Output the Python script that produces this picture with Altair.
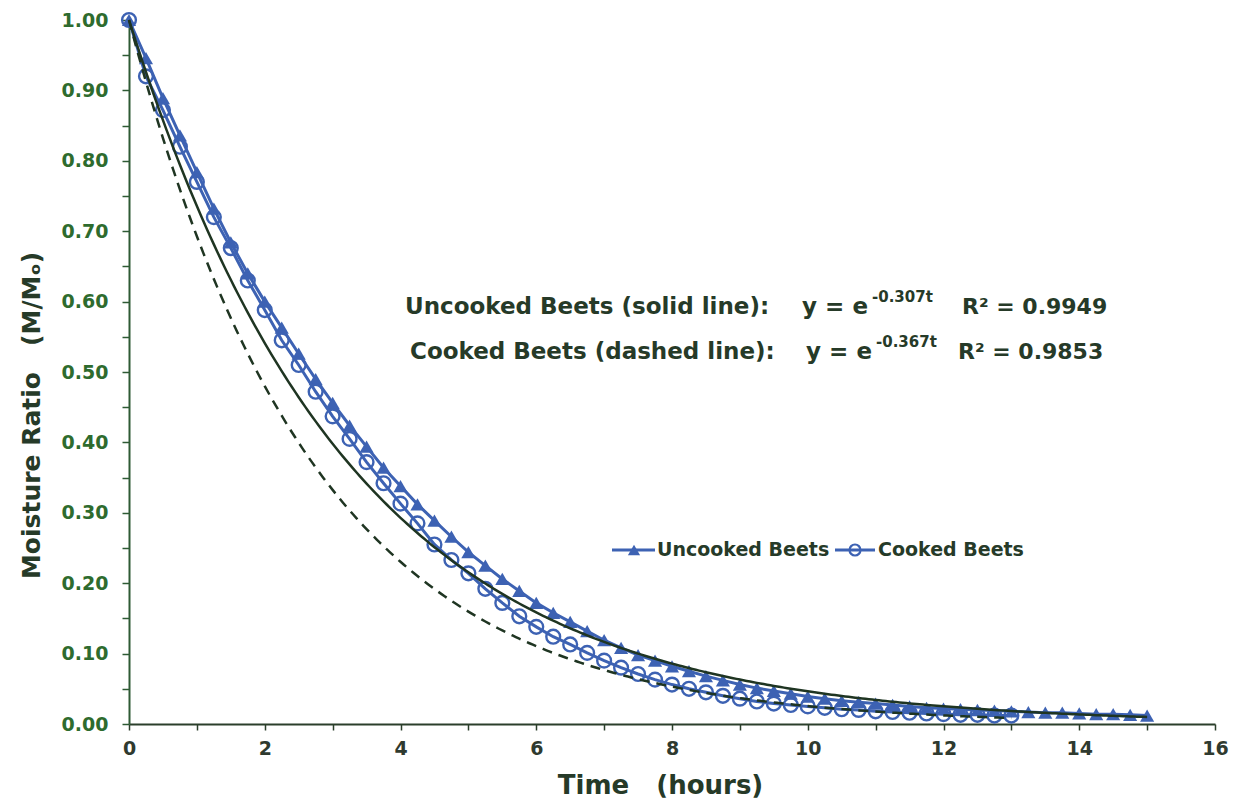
import altair as alt
import pandas as pd

# Drying data: moisture ratio M/Mo measured every quarter hour
uncooked_time = [i * 0.25 for i in range(61)]
uncooked_mr = [
    1.000, 0.946, 0.889, 0.836, 0.784, 0.732, 0.684, 0.640, 0.600, 0.563,
    0.526, 0.490, 0.456, 0.424, 0.394, 0.364, 0.338, 0.312, 0.289, 0.266,
    0.244, 0.225, 0.206, 0.189, 0.172, 0.158, 0.145, 0.132, 0.119, 0.108,
    0.098, 0.090, 0.082, 0.075, 0.068, 0.062, 0.056, 0.051, 0.047, 0.043,
    0.039, 0.036, 0.033, 0.031, 0.029, 0.027, 0.025, 0.023, 0.022, 0.021,
    0.020, 0.019, 0.018, 0.017, 0.016, 0.016, 0.015, 0.014, 0.014, 0.013,
    0.012,
]
cooked_time = [i * 0.25 for i in range(53)]
cooked_mr = [
    1.000, 0.920, 0.872, 0.820, 0.770, 0.720, 0.676, 0.630, 0.588, 0.545,
    0.510, 0.472, 0.437, 0.405, 0.372, 0.342, 0.313, 0.285, 0.255, 0.233,
    0.214, 0.192, 0.172, 0.153, 0.138, 0.124, 0.113, 0.101, 0.090, 0.080,
    0.071, 0.063, 0.056, 0.050, 0.045, 0.040, 0.036, 0.032, 0.029, 0.027,
    0.025, 0.023, 0.021, 0.020, 0.018, 0.017, 0.016, 0.015, 0.014, 0.013,
    0.013, 0.012, 0.012,
]

# Exponential fits y = exp(-k t)
fit_rates = [0.307, 0.367]
fit_r2 = ["0.9949", "0.9853"]
fit_end = [15.0, 13.0]

series_names = ["Uncooked Beets", "Cooked Beets"]
eq_labels = ["Uncooked Beets (solid line):", "Cooked Beets (dashed line):"]

x_ticks = list(range(0, 17))
y_ticks = [round(i * 0.05, 2) for i in range(21)]

BLUE = "#3d62b3"
DARK = "#1f3522"
TEXT = "#263a28"
GREEN = "#2e6b2e"
FONT = "DejaVu Sans"
NB = "\u00a0"

x_scale = alt.Scale(domain=[0, 16], nice=False)
y_scale = alt.Scale(domain=[0, 1], nice=False)

x_axis = alt.Axis(
    values=x_ticks,
    labelExpr="datum.value % 2 == 0 ? datum.label : ''",
    grid=False, tickSize=6, tickColor="#2b3f2b", tickWidth=1.5,
    domainColor="#2b3f2b", domainWidth=2,
    labelFont=FONT, labelFontSize=19, labelFontWeight="bold", labelColor="#2f3a2f",
    labelPadding=9, labelFlush=False,
    title=f"Time{NB}{NB}{NB}(hours)", titleFont=FONT, titleFontSize=26,
    titleFontWeight="bold", titleColor=TEXT,
    titleX=531, titleY=61, titleBaseline="middle",
)
y_axis = alt.Axis(
    values=y_ticks,
    labelExpr="round(datum.value * 100) % 10 == 0 ? format(datum.value, '.2f') : ''",
    grid=False, tickSize=7, tickColor="#2e5a34", tickWidth=1.5,
    domainColor="#2e5a34", domainWidth=2,
    labelFont=FONT, labelFontSize=19, labelFontWeight="bold", labelColor=GREEN,
    labelPadding=14, labelFlush=False,
    title=f"Moisture Ratio{NB}{NB}{NB}(M/Mₒ)", titleFont=FONT, titleFontSize=25,
    titleFontWeight="bold", titleColor=TEXT, titleX=-98, titleY=395,
    titleBaseline="middle",
)

unc_df = pd.DataFrame({"t": uncooked_time, "mr": uncooked_mr})
ck_df = pd.DataFrame({"t": cooked_time, "mr": cooked_mr})

enc = dict(
    x=alt.X("t:Q", scale=x_scale, axis=x_axis),
    y=alt.Y("mr:Q", scale=y_scale, axis=y_axis),
)

unc_line = alt.Chart(unc_df).mark_line(color=BLUE, strokeWidth=3).encode(**enc)
unc_pts = alt.Chart(unc_df).mark_point(
    shape="triangle-up", filled=True, size=200, color=BLUE, opacity=1
).encode(**enc)
ck_line = alt.Chart(ck_df).mark_line(color=BLUE, strokeWidth=3).encode(**enc)
ck_pts = alt.Chart(ck_df).mark_point(
    shape="circle", filled=False, size=190, strokeWidth=2.4, color=BLUE, opacity=1
).encode(**enc)


def fit_curve(k, t_end, dash):
    props = dict(color=DARK, strokeWidth=2.5)
    if dash:
        props["strokeDash"] = [10, 7]
    return (
        alt.Chart(alt.sequence(0, t_end + 0.001, 0.05, as_="t"))
        .transform_calculate(mr=f"exp(-{k} * datum.t)")
        .mark_line(**props)
        .encode(**enc)
    )


fit_solid = fit_curve(fit_rates[0], fit_end[0], False)
fit_dashed = fit_curve(fit_rates[1], fit_end[1], True)


def label(text, x, y, size, align="left"):
    return alt.Chart(pd.DataFrame({"s": [text]})).mark_text(
        font=FONT, fontSize=size, fontWeight="bold", color=TEXT,
        align=align, baseline="middle",
    ).encode(text="s:N", x=alt.value(x), y=alt.value(y))


# Fit equations (pixel positions inside the plot area)
eqs = []
rows = [(276, 287, 739, 743, 833), (281, 332, 743, 747, 829)]
for i, (lx, ly, ex, sx, rx) in enumerate(rows):
    eqs.append(label(eq_labels[i], lx, ly, 23))
    eqs.append(label("y = e", ex, ly, 23, align="right"))
    eqs.append(label(f"-{fit_rates[i]}t", sx, ly - 10, 15))
    eqs.append(label(f"R² = {fit_r2[i]}", rx, ly, 22))

# Legend
leg_y = 530
one = pd.DataFrame({"a": [0]})
legend_parts = [
    alt.Chart(one).mark_rule(color=BLUE, strokeWidth=3).encode(
        x=alt.value(483), x2=alt.value(526), y=alt.value(leg_y)),
    alt.Chart(one).mark_point(
        shape="triangle-up", filled=True, size=150, color=BLUE, opacity=1).encode(
        x=alt.value(505), y=alt.value(leg_y)),
    label(series_names[0], 528, leg_y, 19),
    alt.Chart(one).mark_rule(color=BLUE, strokeWidth=3).encode(
        x=alt.value(706), x2=alt.value(746), y=alt.value(leg_y)),
    alt.Chart(one).mark_point(
        shape="circle", filled=False, size=120, strokeWidth=2.2, color=BLUE, opacity=1).encode(
        x=alt.value(726), y=alt.value(leg_y)),
    label(series_names[1], 749, leg_y, 19),
]

chart = alt.layer(
    unc_line, unc_pts, ck_line, ck_pts, fit_solid, fit_dashed, *eqs, *legend_parts
).properties(
    width=1086,
    height=704,
    autosize=alt.AutoSizeParams(type="none"),
    padding={"left": 129, "top": 20, "right": 29, "bottom": 79},
    background="white",
).configure_view(stroke=None)

chart.save("out.html", embed_options={"renderer": "svg", "actions": False})
